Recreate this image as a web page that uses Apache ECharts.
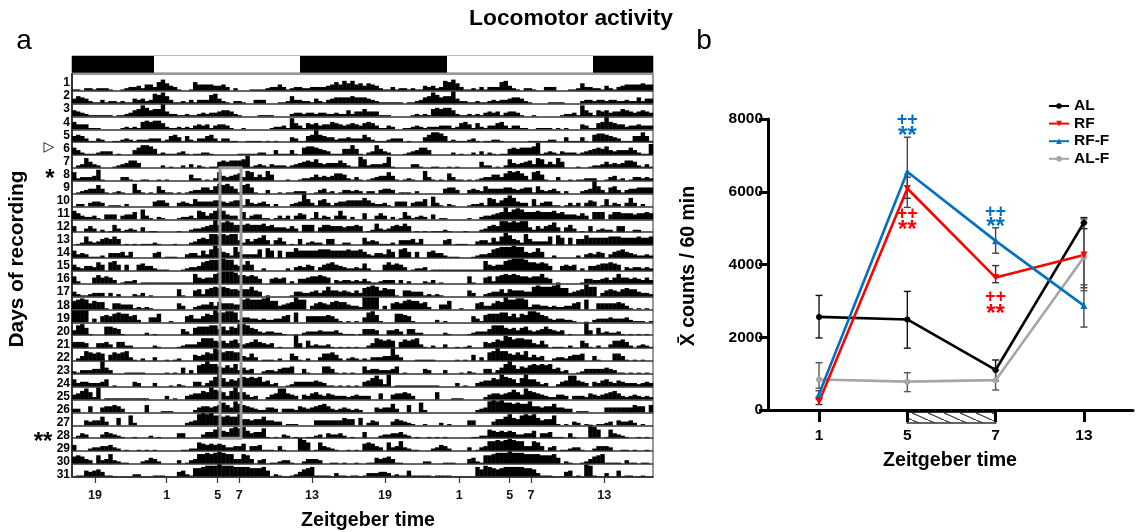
<!DOCTYPE html>
<html>
<head>
<meta charset="utf-8">
<title>Locomotor activity</title>
<script src="https://cdn.jsdelivr.net/npm/echarts@6/dist/echarts.min.js"></script>
<style>
html,body{margin:0;padding:0;background:#fff;}
#chart{width:1141px;height:532px;}
</style>
</head>
<body>
<div id="chart"></div>
<script>
// panel a: activity per 20 min bin, one list per recording day
var activity = [
	[1,1,0,2,2,1,2,2,2,1,0,0, 1,2,3,3,4,2,5,5,3,7,9,6, 4,3,1,0,0,1,7,5,5,5,5,4, 4,5,3,0,2,0,0,0,1,1,1,1, 2,3,3,5,3,1,2,3,3,2,2,3, 3,3,3,4,5,7,5,8,6,8,5,6],
	[4,6,5,4,2,1,1,3,1,2,2,1, 2,1,1,4,3,4,2,3,8,7,9,6, 3,1,1,2,1,3,1,3,3,3,7,8, 4,2,1,0,2,2,1,0,0,3,3,3, 0,0,0,1,1,2,6,3,3,2,2,1, 4,2,1,3,4,5,5,5,5,6,5,5],
	[5,4,3,2,1,1,1,1,1,1,0,1, 1,2,3,5,6,9,7,5,6,6,10,4, 2,2,1,1,2,1,1,2,3,2,3,3, 4,5,5,4,2,1,0,0,0,0,1,1, 1,1,0,0,0,0,2,3,3,2,3,3, 2,3,3,2,2,3,2,2,5,2,4,4],
	[6,4,4,4,1,1,1,0,0,0,0,0, 1,2,1,2,1,6,7,6,7,7,5,2, 1,1,2,1,2,1,3,4,3,4,1,3, 4,4,3,1,0,0,1,0,0,0,0,0, 0,1,2,2,3,1,9,5,3,1,5,4, 5,3,4,4,6,5,4,3,4,5,4,3],
	[5,6,5,3,1,1,3,2,0,0,1,1, 2,3,2,1,2,2,2,3,3,3,1,2, 5,6,4,1,5,2,1,3,3,5,6,3, 1,3,3,1,1,0,0,1,1,1,1,0, 1,0,1,0,0,0,4,3,1,1,5,6, 11,6,5,4,4,2,3,3,4,3,3,3],
	[6,4,2,1,1,1,2,3,3,3,0,1, 0,0,0,4,6,8,8,7,5,1,2,1, 1,1,2,3,1,0,1,1,2,2,1,0, 0,0,0,0,0,1,1,1,1,1,2,2, 0,0,4,1,1,1,4,1,0,6,7,7, 6,5,4,3,1,1,1,5,5,8,5,1],
	[0,2,3,8,5,3,2,0,0,0,1,2, 3,4,6,6,4,0,0,0,0,0,2,0, 1,0,0,2,0,3,0,2,1,0,1,1, 5,6,5,6,6,6,7,10,1,2,3,2, 1,3,2,2,2,1,2,3,4,5,6,5, 7,4,3,4,4,4,6,4,2,1,1,9],
	[7,2,3,3,3,4,9,1,0,0,0,0, 3,3,1,0,0,1,1,0,0,1,0,1, 0,0,0,0,0,5,2,2,0,1,0,2, 7,4,3,4,5,6,3,8,7,3,5,3, 8,5,0,0,0,1,0,0,1,2,2,3, 5,3,4,3,4,6,6,5,2,1,3,1],
	[0,1,2,3,4,4,7,4,1,0,1,2, 1,0,0,8,3,1,0,1,0,6,3,1, 1,0,1,0,1,2,3,3,5,5,3,6, 8,7,8,6,4,1,7,8,5,1,0,0, 3,0,0,1,0,1,1,2,2,2,0,0, 1,3,4,1,2,0,1,3,3,2,3,2],
	[0,2,2,0,3,4,4,3,0,1,1,1, 0,2,0,0,0,0,0,0,4,5,5,3, 0,0,3,4,3,2,6,4,4,4,4,5, 5,4,3,4,5,5,1,6,3,2,3,4, 2,0,2,0,0,0,2,3,4,11,6,3, 1,5,6,3,1,3,4,4,5,5,5,5],
	[7,5,3,2,2,3,1,0,4,4,4,0, 3,4,4,6,0,8,3,1,0,2,1,0, 0,0,1,2,2,3,1,7,6,3,5,7, 9,7,4,3,3,0,6,1,3,4,4,1, 1,0,1,3,1,3,0,3,5,4,0,1, 6,1,3,2,0,3,7,3,0,2,0,0],
	[5,0,0,3,5,3,0,2,0,1,6,3, 1,2,3,2,0,4,0,1,1,0,0,0, 0,0,1,0,0,2,3,3,4,5,6,10, 6,8,9,8,6,6,6,7,6,6,6,7, 5,6,4,4,4,3,5,3,0,6,6,6, 0,4,6,6,5,5,5,4,5,5,6,5],
	[0,1,2,7,3,2,3,5,6,5,7,5, 0,1,0,1,0,1,1,1,2,1,0,0, 0,1,0,0,0,2,3,5,6,5,9,9, 8,9,8,9,9,4,2,5,3,5,6,8, 4,0,4,6,3,0,1,0,5,0,2,3, 2,2,0,5,5,0,0,2,2,0,0,0],
	[6,3,4,3,1,1,1,2,0,4,4,4, 5,2,5,0,0,0,0,0,4,5,0,1, 1,1,0,0,3,4,4,2,6,3,7,10, 8,5,4,2,9,5,3,3,3,3,7,0, 8,6,0,6,0,5,5,8,6,6,6,6, 6,7,7,7,6,6,6,6,7,6,6,7],
	[5,3,2,4,4,3,7,5,0,7,8,5, 0,5,0,0,5,6,4,4,2,1,1,1, 0,0,0,1,2,3,3,4,7,8,9,9, 9,10,9,9,5,4,5,8,5,0,0,2, 0,0,0,0,0,2,0,3,4,3,5,4, 0,3,5,6,7,5,4,3,2,2,3,2],
	[6,2,0,0,0,5,7,5,6,5,3,0, 1,2,2,3,0,1,1,1,1,1,1,1, 1,1,1,1,1,1,8,5,4,5,5,8, 9,10,10,10,9,7,7,6,7,6,4,0, 0,4,5,4,5,0,2,0,4,4,5,6, 6,7,6,5,0,3,2,3,3,2,3,2],
	[4,2,1,1,2,3,3,3,0,3,0,2, 0,0,0,2,1,3,0,1,0,0,0,0, 0,0,6,1,0,0,5,6,2,6,7,8, 7,8,7,6,6,5,6,6,8,5,4,0, 1,0,0,0,0,0,1,4,4,3,3,4, 5,3,5,8,5,5,4,5,4,3,5,3],
	[7,8,9,8,5,7,6,6,1,0,5,5, 4,4,4,1,2,1,2,1,0,0,0,0, 0,0,5,3,0,0,2,3,4,4,6,3, 6,5,5,5,4,4,8,9,8,8,8,9, 10,7,7,3,4,5,6,10,8,8,0,3, 5,6,5,4,6,7,6,6,4,3,3,2],
	[10,10,10,10,0,3,0,5,6,5,7,8, 7,7,5,6,2,0,0,4,4,7,0,0, 1,0,0,0,5,6,3,3,5,7,6,10, 8,8,9,9,8,2,4,4,3,3,2,3, 2,2,3,3,5,6,0,8,0,0,5,5, 5,5,5,6,5,3,1,0,1,0,1,0],
	[4,8,9,6,1,0,0,0,7,7,6,5, 1,0,0,0,0,0,2,0,1,0,0,0, 0,0,0,5,3,1,6,7,7,7,8,8, 5,7,4,7,6,9,9,8,6,5,3,2, 3,3,2,2,1,0,0,0,0,2,3,3, 3,4,3,3,3,4,2,1,1,1,0,1],
	[5,5,5,4,0,0,4,4,5,3,0,5, 5,2,2,0,0,0,0,0,2,1,0,0, 0,0,1,2,3,3,3,5,8,8,8,6, 5,6,4,6,7,4,3,4,5,7,5,4, 3,4,0,1,0,0,0,11,4,0,6,2, 3,2,2,3,1,0,1,0,1,0,1,0],
	[0,2,4,8,7,6,7,6,0,5,7,6, 7,8,3,1,0,2,0,0,3,0,0,1, 0,1,2,0,0,0,5,4,5,7,6,10, 9,7,8,8,7,7,4,3,6,3,0,1, 1,1,0,2,0,0,6,4,1,0,2,0, 0,3,6,6,7,5,2,0,2,3,2,1],
	[2,1,3,3,3,4,4,12,5,3,0,0, 0,1,1,1,1,1,0,0,0,0,0,1, 0,1,0,5,0,3,0,7,8,11,8,8, 6,5,7,5,8,3,5,3,4,0,0,2, 3,3,2,4,5,5,6,0,0,4,1,0, 0,0,6,6,4,1,0,1,0,1,0,0],
	[6,3,4,4,3,3,3,4,6,0,1,0, 0,0,0,4,3,0,0,0,3,0,0,0, 1,0,2,1,0,0,4,4,1,3,5,8, 11,7,4,6,5,7,8,7,8,7,8,4, 5,2,3,0,0,1,2,4,4,4,4,4, 5,4,3,1,1,0,1,0,1,0,1,0],
	[4,5,7,9,6,2,10,0,1,1,1,1, 1,1,1,1,1,1,1,0,0,0,0,3, 0,1,0,0,3,4,5,5,7,6,10,8, 7,6,3,7,10,6,6,4,2,3,0,0, 2,4,5,9,9,5,4,3,0,4,3,5, 6,4,3,5,4,3,3,3,2,3,4,3],
	[3,3,0,0,5,0,0,4,5,5,6,5, 3,0,0,0,0,0,6,0,0,0,1,1, 1,0,0,0,0,0,2,4,5,5,4,5, 6,8,6,4,9,7,6,5,4,3,2,2, 4,4,3,0,3,3,3,2,5,4,3,4, 5,6,7,5,3,2,3,4,3,2,3,2],
	[0,0,0,4,3,4,4,7,3,0,0,6, 0,0,8,2,0,0,0,0,0,0,0,0, 0,0,0,0,2,3,4,9,10,9,10,8, 8,7,8,7,7,9,5,5,4,5,5,7, 4,4,3,3,0,1,1,1,0,0,0,0, 4,4,4,4,4,4,4,6,5,5,0,6],
	[0,2,4,3,0,0,0,3,5,4,3,2, 1,0,0,1,0,0,0,2,0,1,0,0, 0,0,4,4,0,0,0,0,3,5,5,7, 9,6,5,8,9,8,9,6,4,5,5,8, 1,0,1,0,3,2,0,1,0,0,1,1, 2,3,0,4,3,3,4,2,0,1,0,0],
	[5,0,0,0,2,3,3,4,4,5,3,2, 0,1,0,0,1,0,1,0,1,0,0,0, 0,0,0,1,1,2,2,7,6,5,6,5, 6,5,3,3,4,4,6,0,4,4,5,1, 1,1,0,4,1,0,0,0,11,9,7,0, 1,7,4,3,2,1,0,0,1,0,1,0],
	[6,7,6,4,3,0,7,3,4,8,3,2, 1,1,0,0,0,2,3,5,4,2,0,0, 0,0,3,0,1,3,4,8,8,9,8,9, 10,9,8,8,4,4,8,7,4,0,3,4, 0,1,1,2,3,3,1,0,0,2,4,4, 4,3,0,0,1,1,0,1,0,0,1,0],
	[0,1,1,5,4,5,6,4,1,1,0,0, 0,0,0,2,2,0,0,0,1,1,1,0, 0,0,4,5,2,1,7,7,8,9,9,9, 12,9,9,9,8,8,8,8,7,7,7,8, 5,0,2,1,0,0,1,2,4,6,7,8, 1,1,1,1,0,3,1,1,0,1,1,0],
	[1,3,3,3,4,4,3,1,2,1,1,5, 1,1,1,1,1,0,1,1,1,1,0,0, 0,0,0,0,8,6,9,8,7,6,7,8, 8,8,8,8,7,7,6,3,1,1,1,0, 0,0,4,5,0,1,0,10,9,1,0,0, 3,0,0,5,0,1,1,0,0,1,0,0]
];
var binHours = 1 / 3;
var rowFullScale = 10.5;
var dayLabels = [1,2,3,4,5,6,7,8,9,10,11,12,13,14,15,16,17,18,19,20,21,22,23,24,25,26,27,28,29,30,31];
// the printed day numbers drift slightly from the rows, so they get their own spacing
var dayLabelStart = 0.907;
var dayLabelStep = 1.0155;
var lightHours = [6.78, 12.07, 12.15, 12.07, 4.96];
var lightColors = ['#000', '#fff', '#000', '#fff', '#000'];
var ztTickHours = [1.9, 7.83, 12.04, 13.82, 19.83, 25.87, 32.0, 36.17, 37.93, 43.99];
var ztTickLabels = ['19', '1', '5', '7', '13', '19', '1', '5', '7', '13'];
// grey box: ZT 5-7 window, days 8 to 28
var windowHours = [12.23, 13.97];
var windowDays = [7.5, 28.5];

// panel b
var zeitgeberTimes = ['1', '5', '7', '13'];
var alMean = [2560, 2490, 1100, 5150];
var alLow = [1980, 1700, 800, 4985];
var alHigh = [3150, 3260, 1375, 5290];
var rfMean = [230, 6090, 3640, 4260];
var rfLow = [150, 5820, 3500, 3360];
var rfHigh = [310, 6400, 3970, 5150];
var rffMean = [440, 6550, 4650, 2870];
var rffLow = [350, 5570, 4310, 2280];
var rffHigh = [530, 7500, 5010, 3440];
var alfMean = [840, 780, 820, 4200];
var alfLow = [600, 505, 550, 3280];
var alfHigh = [1300, 1025, 1090, 5250];
var markTexts = ['++', '**', '++', '**', '++', '**', '++', '**'];
var markX = [1, 1, 1, 1, 2, 2, 2, 2];
var markY = [7960, 7513, 5380, 4950, 5430, 5030, 3095, 2640];
var markColors = ['#0070c0', '#0070c0', '#ff0000', '#ff0000', '#0070c0', '#0070c0', '#ff0000', '#ff0000'];
var markSizes = [18, 24, 18, 24, 18, 24, 18, 24];

var FONT = '"Liberation Sans", Arial, sans-serif';

var chart = echarts.init(document.getElementById('chart'));

function buildActivityBars(){
	var bars = [];
	for(var d = 0; d < 31; d++){
		var row = activity[d].concat(activity[d + 1]);
		for(var k = 0; k < row.length; k++){
			if(row[k] > 0){
				bars.push([k * binHours, dayLabels[d], row[k]]);
			}
		}
	}
	return bars;
}

function renderActivityBar(params, api){
	var start = api.coord([api.value(0), api.value(1) + 0.5]);
	var end = api.coord([api.value(0) + binHours, api.value(1) + 0.5 - api.value(2) / rowFullScale]);
	return {
		type: 'rect',
		shape: {x: start[0], y: end[1], width: end[0] - start[0] + 0.4, height: start[1] - end[1]},
		style: {fill: '#000'}
	};
}

function renderErrorBar(params, api){
	var x = api.value(0);
	var low = api.coord([x, api.value(1)]);
	var high = api.coord([x, api.value(2)]);
	var cap = 3.5;
	var stroke = {stroke: api.visual('color'), lineWidth: 1.4};
	return {
		type: 'group',
		children: [
			{type: 'line', shape: {x1: low[0], y1: low[1], x2: high[0], y2: high[1]}, style: stroke},
			{type: 'line', shape: {x1: low[0] - cap, y1: low[1], x2: low[0] + cap, y2: low[1]}, style: stroke},
			{type: 'line', shape: {x1: high[0] - cap, y1: high[1], x2: high[0] + cap, y2: high[1]}, style: stroke}
		]
	};
}

function errorSeries(low, high, color){
	var data = [];
	for(var i = 0; i < low.length; i++){
		data.push([i, low[i], high[i]]);
	}
	return {
		type: 'custom', xAxisIndex: 2, yAxisIndex: 2, clip: false, silent: true,
		itemStyle: {color: color},
		renderItem: renderErrorBar,
		encode: {x: 0, y: [1, 2]},
		data: data, z: 3
	};
}

function meanSeries(name, values, color, symbol, rotate, size){
	var data = [];
	for(var i = 0; i < values.length; i++){
		data.push([i, values[i]]);
	}
	return {
		name: name, type: 'line', xAxisIndex: 2, yAxisIndex: 2,
		data: data, clip: false,
		symbol: symbol, symbolSize: size, symbolRotate: rotate,
		lineStyle: {color: color, width: 2.6},
		itemStyle: {color: color},
		z: 4
	};
}

function hatchPattern(){
	var c = document.createElement('canvas');
	c.width = 16;
	c.height = 7;
	var g = c.getContext('2d');
	g.fillStyle = '#fff';
	g.fillRect(0, 0, 16, 7);
	g.strokeStyle = '#222';
	g.lineWidth = 1.1;
	g.beginPath();
	g.moveTo(-2, -0.9);
	g.lineTo(18, 7.9);
	g.stroke();
	return c;
}

var lightSeries = [];
for(var i = 0; i < lightHours.length; i++){
	lightSeries.push({
		type: 'bar', xAxisIndex: 1, yAxisIndex: 1, stack: 'light', barWidth: '100%', silent: true,
		itemStyle: {color: lightColors[i]},
		data: [lightHours[i]]
	});
}

var rowLines = [];
var dayLabelValues = [];
for(var i = 0; i < dayLabels.length; i++){
	rowLines.push({yAxis: dayLabels[i] + 0.5});
	dayLabelValues.push(dayLabelStart + i * dayLabelStep);
}

var hatch = hatchPattern();
var option = {
	animation: false,
	backgroundColor: '#fff',
	textStyle: {fontFamily: FONT},
	legend: {
		left: 1048, top: 98, orient: 'vertical', padding: 0, itemGap: 1.6, itemWidth: 20, itemHeight: 7,
		textStyle: {fontFamily: FONT, fontWeight: 'bold', fontSize: 15.5, color: '#000'},
		data: ['AL', 'RF', 'RF-F', 'AL-F']
	},
	grid: [
		{left: 72, top: 74, width: 581, height: 403, show: true, borderColor: '#777', borderWidth: 1.5, backgroundColor: '#fff'},
		{left: 72, top: 56, width: 581, height: 16.5, show: true, borderColor: '#777', borderWidth: 1},
		{left: 768, top: 119, width: 365, height: 291}
	],
	xAxis: [
		{
			gridIndex: 0, type: 'value', min: 0, max: 48.02, position: 'bottom',
			axisLine: {show: true, lineStyle: {color: '#444', width: 1.5}},
			axisTick: {show: true, length: 6, customValues: ztTickHours, lineStyle: {color: '#333', width: 1.2}},
			axisLabel: {
				customValues: ztTickHours, margin: 12, fontSize: 12.5, fontWeight: 'bold', color: '#111',
				formatter: function(v){ return ztTickLabels[ztTickHours.indexOf(v)]; }
			},
			splitLine: {show: false}
		},
		{gridIndex: 1, type: 'value', min: 0, max: 48.03, show: false},
		{
			gridIndex: 2, type: 'value', min: -0.578, max: 3.556, z: 5,
			axisLine: {show: true, onZero: false, lineStyle: {color: '#000', width: 3}},
			axisTick: {show: true, length: 12, customValues: [0, 1, 2, 3], lineStyle: {color: '#000', width: 3}},
			axisLabel: {
				customValues: [0, 1, 2, 3], margin: 18, fontSize: 15.5, fontWeight: 'bold', color: '#000',
				formatter: function(v){ return zeitgeberTimes[v]; }
			},
			splitLine: {show: false}
		}
	],
	yAxis: [
		{
			gridIndex: 0, type: 'value', min: 0.207, max: 31.52, inverse: true,
			axisLine: {show: true, lineStyle: {color: '#333', width: 2}},
			axisTick: {show: false},
			axisLabel: {
				customValues: dayLabelValues, margin: 2, fontSize: 12, fontWeight: 'bold', color: '#000',
				formatter: function(v){ return dayLabels[dayLabelValues.indexOf(v)]; }
			},
			splitLine: {show: false}
		},
		{gridIndex: 1, type: 'category', data: ['light'], show: false},
		{
			gridIndex: 2, type: 'value', min: 0, max: 8000, interval: 2000,
			axisLine: {show: true, onZero: false, lineStyle: {color: '#000', width: 3}},
			axisTick: {show: true, length: 9, lineStyle: {color: '#000', width: 3}},
			axisLabel: {
				margin: 5, fontSize: 15.5, fontWeight: 'bold', color: '#000',
				formatter: function(v){ return String(v); }
			},
			splitLine: {show: false}
		}
	],
	series: lightSeries.concat([
		{
			type: 'custom', xAxisIndex: 0, yAxisIndex: 0, silent: true,
			renderItem: renderActivityBar,
			encode: {x: 0, y: 1},
			data: buildActivityBars(),
			markLine: {
				silent: true, symbol: 'none', animation: false, label: {show: false},
				lineStyle: {color: '#333', width: 1.6, type: 'solid'},
				data: rowLines
			},
			markArea: {
				silent: true, animation: false, label: {show: false}, z: 6,
				itemStyle: {color: 'rgba(0,0,0,0)', borderColor: '#999', borderWidth: 3},
				data: [[{xAxis: windowHours[0], yAxis: windowDays[0]}, {xAxis: windowHours[1], yAxis: windowDays[1]}]]
			}
		},
		// hatched feeding window under the axis, ZT 5 to ZT 7
		{
			type: 'custom', xAxisIndex: 2, yAxisIndex: 2, clip: false, silent: true,
			renderItem: function(params, api){
				var a = api.coord([api.value(0), api.value(2)]);
				var b = api.coord([api.value(1), api.value(3)]);
				return {
					type: 'rect',
					shape: {x: a[0], y: a[1], width: b[0] - a[0], height: b[1] - a[1]},
					style: {fill: {image: hatch, repeat: 'repeat'}, stroke: '#333', lineWidth: 1.5}
				};
			},
			data: [[1, 2, -60, -360]], z: 1
		},
		errorSeries(alLow, alHigh, '#111'),
		errorSeries(rfLow, rfHigh, '#333'),
		errorSeries(rffLow, rffHigh, '#444'),
		errorSeries(alfLow, alfHigh, '#555'),
		meanSeries('AL-F', alfMean, '#a6a6a6', 'circle', 0, 6),
		meanSeries('AL', alMean, '#000', 'circle', 0, 6),
		meanSeries('RF', rfMean, '#ff0000', 'triangle', 180, 7),
		meanSeries('RF-F', rffMean, '#0070c0', 'triangle', 0, 7),
		// significance marks, anchored to the value axis
		{
			type: 'custom', xAxisIndex: 2, yAxisIndex: 2, clip: false, silent: true,
			renderItem: function(params, api){
				var p = api.coord([api.value(0), api.value(1)]);
				return {
					type: 'text', x: p[0], y: p[1],
					style: {
						text: markTexts[params.dataIndex], fill: markColors[params.dataIndex],
						font: 'bold ' + markSizes[params.dataIndex] + 'px ' + FONT, textAlign: 'center', textVerticalAlign: 'middle'
					}
				};
			},
			data: markX.map(function(x, i){ return [x, markY[i]]; }), z: 6
		}
	]),
	graphic: [
		{type: 'text', x: 571, y: 19, style: {text: 'Locomotor activity', font: 'bold 22.8px ' + FONT, fill: '#000', textAlign: 'center', textVerticalAlign: 'middle'}},
		{type: 'text', x: 24, y: 41, style: {text: 'a', font: '28px ' + FONT, fill: '#000', textAlign: 'center', textVerticalAlign: 'middle'}},
		{type: 'text', x: 704, y: 41, style: {text: 'b', font: '28px ' + FONT, fill: '#000', textAlign: 'center', textVerticalAlign: 'middle'}},
		{type: 'text', x: 368, y: 521, style: {text: 'Zeitgeber time', font: 'bold 19.6px ' + FONT, fill: '#000', textAlign: 'center', textVerticalAlign: 'middle'}},
		{type: 'text', x: 950, y: 461, style: {text: 'Zeitgeber time', font: 'bold 19.6px ' + FONT, fill: '#000', textAlign: 'center', textVerticalAlign: 'middle'}},
		{type: 'text', x: 17, y: 259, rotation: Math.PI / 2, style: {text: 'Days of recording', font: 'bold 20.8px ' + FONT, fill: '#000', textAlign: 'center', textVerticalAlign: 'middle'}},
		{type: 'text', x: 689, y: 266, rotation: Math.PI / 2, style: {text: 'X\u0304 counts / 60 min', font: 'bold 19.5px ' + FONT, fill: '#000', textAlign: 'center', textVerticalAlign: 'middle'}},
		{type: 'text', x: 49, y: 147, style: {text: '\u25B7', font: '14px "DejaVu Sans"', fill: '#000', textAlign: 'center', textVerticalAlign: 'middle'}},
		{type: 'text', x: 50, y: 179, style: {text: '*', font: 'bold 24px ' + FONT, fill: '#000', textAlign: 'center', textVerticalAlign: 'middle'}},
		{type: 'text', x: 43, y: 442, style: {text: '**', font: 'bold 24px ' + FONT, fill: '#000', textAlign: 'center', textVerticalAlign: 'middle'}}
	]
};

chart.setOption(option);
</script>
</body>
</html>
